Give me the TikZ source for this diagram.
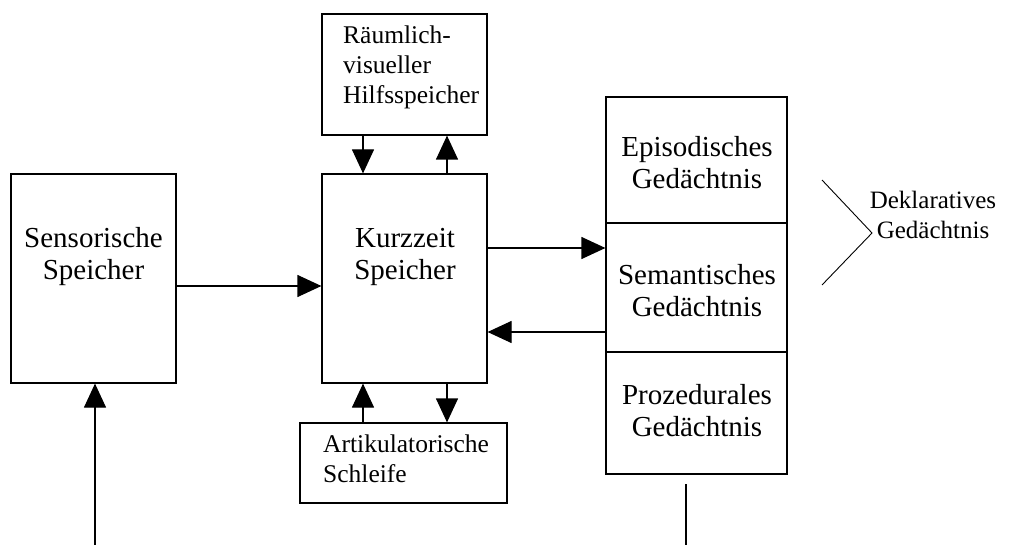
\documentclass[tikz,border=0pt]{standalone}
\usepackage{fontspec}
\setmainfont{Liberation Serif}
\usepackage{tikz}
\usetikzlibrary{arrows.meta}
\usetikzlibrary{positioning}

\tikzset{
  box/.style={draw, line width=1.2pt, rectangle, inner sep=0pt},
  bigtxt/.style={inner sep=0pt, align=center, font=\fontsize{29}{32}\selectfont},
  smalltxt/.style={inner sep=0pt, align=left, anchor=west, font=\fontsize{25.5}{30}\selectfont},
  arr/.style={-{Triangle[length=24pt,width=22pt]}, line width=1.2pt},
}

\begin{document}
\begin{tikzpicture}[x=1pt, y=-1pt, line cap=butt, line join=miter]
			\useasboundingbox (0,0) rectangle (1022,545);
			
			% Boxes
			\node[box, minimum width=165pt, minimum height=209pt] (sens) at (93.5,278.5) {};
			\node[box, minimum width=165pt, minimum height=209pt] (kurz) at (404.5,278.5) {};
			\node[box, minimum width=165pt, minimum height=121pt] (raum) at (404.5,74.5) {};
			\node[box, minimum width=207pt, minimum height=80pt] (artik) at (403.5,463) {};
			
			% Memory column
			\node[box, minimum width=181pt, minimum height=126pt] (epi) at (696.5,160) {};
			\node[box, minimum width=181pt, minimum height=129pt] (sem) at (696.5,287.5) {};
			\node[box, minimum width=181pt, minimum height=122pt] (proz) at (696.5,413) {};
			
			% Texts
			\node[bigtxt] (sensT) at (93.5,257) {Sensorische\\Speicher};
			\node[bigtxt] (kurzT) at (405,257) {Kurzzeit\\Speicher};
			\node[smalltxt] (raumT) at (343,67) {Räumlich-\\visueller\\Hilfsspeicher};
			\node[smalltxt] (artikT) at (323,459) {Artikulatorische\\Schleife};
			\node[bigtxt] (epiT) at (697,163) {Episodisches\\Gedächtnis};
			\node[bigtxt] (semT) at (697,290.5) {Semantisches\\Gedächtnis};
			\node[bigtxt] (prozT) at (697,411) {Prozedurales\\Gedächtnis};
			\node[bigtxt, font=\fontsize{25}{30}\selectfont] (deklT) at (933,215) {Deklaratives\\Gedächtnis};
			
			% Arrows
			\draw[arr] (sens.east |- 0,286) -- (kurz.west |- 0,286);
			\draw[arr] (raum.south -| 363,0) -- (kurz.north -| 363,0);
			\draw[arr] (kurz.north -| 447,0) -- (raum.south -| 447,0);
			\draw[arr] (artik.north -| 363,0) -- (kurz.south -| 363,0);
			\draw[arr] (kurz.south -| 447,0) -- (artik.north -| 447,0);
			\draw[arr] (kurz.east |- 0,248) -- (sem.west |- 0,248);
			\draw[arr] (sem.west |- 0,332) -- (kurz.east |- 0,332);
			
			% Input and output lines
			\coordinate (inp) at (95,545);
			\draw[arr] (inp) -- (sens.south -| inp);
			\coordinate (outA) at (686,484);
			\coordinate (outB) at (686,545);
			\draw[line width=1.2pt] (outA) -- (outB);
			
			% Bracket to Deklaratives
			\draw[line width=0.9pt] (822,180) -- (872,233) -- (822,285);
		\end{tikzpicture}
\end{document}
